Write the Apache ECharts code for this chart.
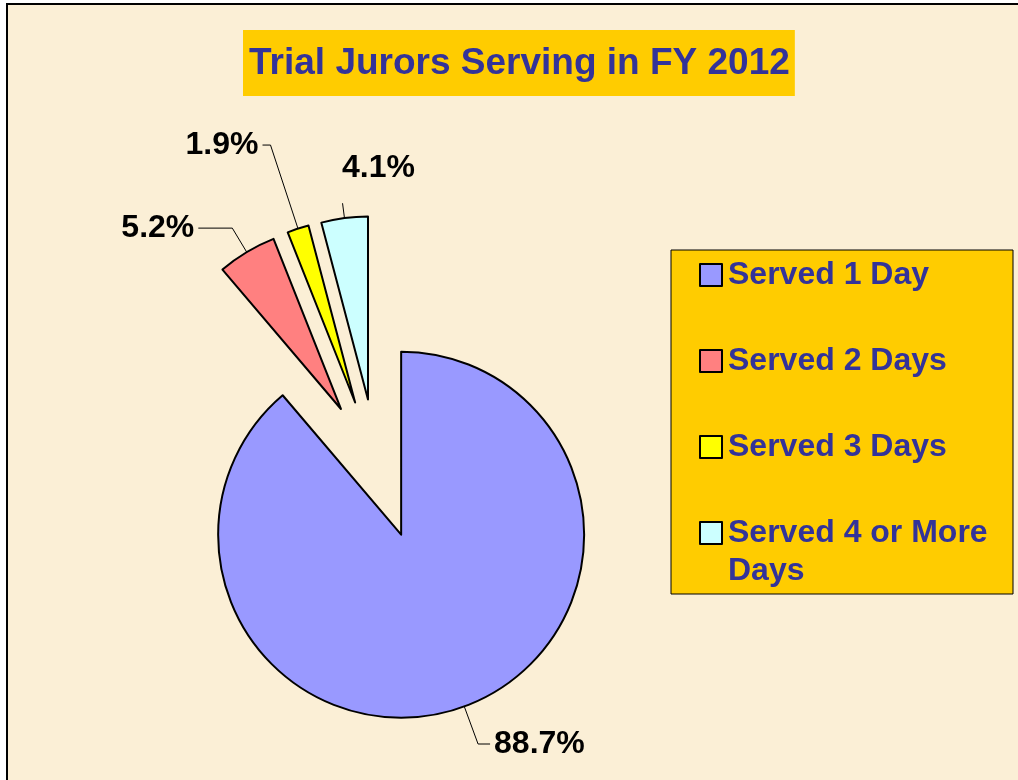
<!DOCTYPE html>
<html>
<head>
<meta charset="utf-8">
<script src="https://cdn.jsdelivr.net/npm/echarts@6/dist/echarts.min.js"></script>
<style>
  html, body { margin: 0; padding: 0; background: #ffffff; }
  #wrap { position: relative; width: 1018px; height: 780px; overflow: hidden; background: #ffffff; }
  #chart { position: absolute; left: 0; top: 0; width: 1018px; height: 780px; }
  #frame { position: absolute; left: 6px; top: 3px; width: 1100px; height: 900px;
           border-top: 2px solid #000; border-left: 2px solid #000; pointer-events: none; }
  #maskTop { position: absolute; left: 0; top: 0; width: 1018px; height: 3px; background: #fff; }
  #maskLeft { position: absolute; left: 0; top: 0; width: 6px; height: 780px; background: #fff; }
</style>
</head>
<body>
<div id="wrap">
  <div id="chart"></div>
  <div id="maskTop"></div>
  <div id="maskLeft"></div>
  <div id="frame"></div>
</div>
<script>
const titleText = 'Trial Jurors Serving in FY 2012';
const categories = ['Served 1 Day', 'Served 2 Days', 'Served 3 Days', 'Served 4 or More Days'];
const percents = [88.7, 5.2, 1.9, 4.1];
const sliceColors = ['#9999FF', '#FF8080', '#FFFF00', '#CCFFFF'];
const leaderLengths = [[40, 12], [28, 34], [88, 8], [15, 0]];

const FONT = '"Liberation Sans", Arial, Helvetica, sans-serif';

const data = categories.map((name, i) => ({
  name: name,
  value: percents[i],
  selected: true,
  itemStyle: { color: sliceColors[i] },
  labelLine: { length: leaderLengths[i][0], length2: leaderLengths[i][1] }
}));

const legendText = {
  color: '#333399',
  fontSize: 32,
  fontWeight: 'bold',
  fontFamily: FONT,
  lineHeight: 38,
  width: 276,
  overflow: 'break',
  padding: [0, 0, 0, 1]
};

const chart = echarts.init(document.getElementById('chart'), null, { renderer: 'canvas' });
chart.setOption({
  animation: false,
  backgroundColor: '#FBEFD6',
  title: {
    text: titleText,
    left: 243,
    top: 30,
    padding: [14, 5, 12, 6],
    backgroundColor: '#FFCC00',
    textStyle: {
      color: '#333399',
      fontSize: 37,
      fontWeight: 'bold',
      fontFamily: FONT,
      lineHeight: 40
    }
  },
  legend: [{
    orient: 'vertical',
    left: 671,
    top: 250,
    padding: [6, 9, 128, 28],
    itemGap: 48,
    itemWidth: 22,
    itemHeight: 22,
    icon: 'rect',
    backgroundColor: '#FFCC00',
    borderColor: '#000000',
    borderWidth: 1,
    selectedMode: false,
    itemStyle: { borderColor: '#000000', borderWidth: 2 },
    textStyle: legendText,
    data: categories.slice(0, 3)
  }, {
    orient: 'vertical',
    left: 671,
    top: 476,
    padding: [0, 9, 0, 28],
    itemWidth: 22,
    itemHeight: 22,
    icon: 'rect',
    selectedMode: false,
    itemStyle: { borderColor: '#000000', borderWidth: 2 },
    textStyle: legendText,
    formatter: function (name) { return '\n' + name; },
    data: categories.slice(3)
  }],
  series: [{
    type: 'pie',
    center: [377, 469],
    radius: 183,
    startAngle: 90,
    clockwise: true,
    selectedMode: 'multiple',
    selectedOffset: 70,
    avoidLabelOverlap: false,
    emphasis: { disabled: true },
    itemStyle: { borderColor: '#000000', borderWidth: 2 },
    label: {
      show: true,
      position: 'outside',
      formatter: '{c}%',
      color: '#000000',
      fontSize: 32,
      fontWeight: 'bold',
      fontFamily: FONT,
      distanceToLabelLine: 4
    },
    labelLine: {
      show: true,
      smooth: false,
      lineStyle: { color: '#000000', width: 1 }
    },
    labelLayout: function (p) {
      if (p.dataIndex === 3) {
        return { dx: 40, dy: -35, align: 'center' };
      }
      return {};
    },
    data: data
  }]
});
</script>
</body>
</html>
